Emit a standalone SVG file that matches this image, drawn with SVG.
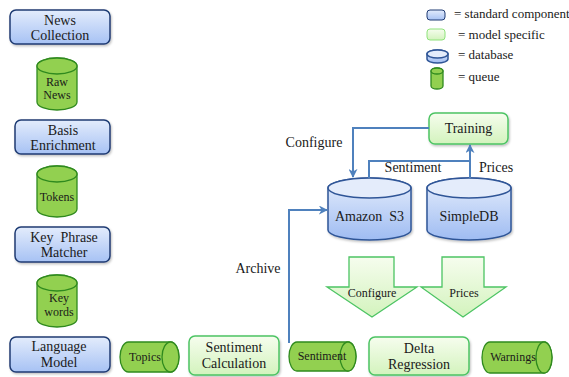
<svg xmlns="http://www.w3.org/2000/svg" width="569" height="377" viewBox="0 0 569 377" font-family="'Liberation Serif', 'DejaVu Serif', serif">
<defs>
<linearGradient id="gBlue" x1="0" y1="0" x2="0" y2="1"><stop offset="0" stop-color="#e3ecfc"/><stop offset="1" stop-color="#a7c2f4"/></linearGradient>
<linearGradient id="gGreen" x1="0" y1="0" x2="0" y2="1"><stop offset="0" stop-color="#f6fdee"/><stop offset="1" stop-color="#d3f3bd"/></linearGradient>
<linearGradient id="gDb" x1="0" y1="0" x2="0" y2="1"><stop offset="0" stop-color="#e6eefc"/><stop offset="1" stop-color="#9fbcf2"/></linearGradient>
<filter id="sh" x="-10%" y="-10%" width="130%" height="140%"><feDropShadow dx="1" dy="1.5" stdDeviation="1" flood-color="#000" flood-opacity="0.25"/></filter>
<marker id="arr" viewBox="0 0 10 10" refX="9" refY="5" markerWidth="4.5" markerHeight="4.5" orient="auto" markerUnits="strokeWidth"><path d="M0,0 L10,5 L0,10 L3,5 Z" fill="#4f81bd"/></marker>
</defs>
<style>
.std{fill:url(#gBlue);stroke:#1f3b73;stroke-width:1.5;filter:url(#sh)}
.mod{fill:url(#gGreen);stroke:#4cc463;stroke-width:1.5;filter:url(#sh)}
.q{fill:#92d050;stroke:#2f8a1e;stroke-width:1.3}
.db{fill:url(#gDb);stroke:#2f5597;stroke-width:1.5}
.dbtop{fill:#e4ecfb;stroke:#2f5597;stroke-width:1.5}
.big{fill:url(#gGreen);stroke:#4cc463;stroke-width:1.3}
text{font-family:'Liberation Serif','DejaVu Serif',serif;fill:#1a1a1a;text-anchor:middle}
.t13{font-size:14px}
.t11{font-size:12px}
.t10{font-size:12px}
.lg{font-size:13px;text-anchor:start}
.con{fill:none;stroke:#4f81bd;stroke-width:2}
</style>

<g id="legend">
<rect x="427" y="10" width="18" height="10" rx="3" fill="url(#gBlue)" stroke="#1f3b73" stroke-width="1"/>
<text class="lg" x="454" y="18">= standard component</text>
<rect x="427" y="29" width="18" height="11" rx="3" fill="url(#gGreen)" stroke="#8ee27a" stroke-width="1"/>
<text class="lg" x="458" y="39">= model specific</text>
<path d="M427,54 a10.5,4 0 0 1 21,0 V59 a10.5,4 0 0 1 -21,0 Z" class="db" stroke-width="1"/>
<ellipse cx="437.5" cy="54" rx="10.5" ry="4" class="dbtop" stroke-width="1"/>
<text class="lg" x="458" y="59">= database</text>
<path d="M431,71 a6,3 0 0 1 12,0 V86 a6,3 0 0 1 -12,0 Z" class="q" stroke-width="1"/>
<ellipse cx="437" cy="71" rx="6" ry="3" class="q" stroke-width="1"/>
<text class="lg" x="458" y="81">= queue</text>
</g>

<g id="news-collection">
<rect x="10" y="10" width="100" height="34" rx="6" class="std"/>
<text class="t13" x="60" y="25">News</text><text class="t13" x="60" y="40">Collection</text>
</g>
<g id="raw-news">
<path d="M37,66 a20,8 0 0 1 40,0 V102 a20,8 0 0 1 -40,0 Z" class="q"/>
<ellipse cx="57" cy="66" rx="20" ry="8" class="q"/>
<text class="t10" x="57" y="86">Raw</text><text class="t10" x="57" y="99">News</text>
</g>
<g id="basis-enrichment">
<rect x="15" y="120" width="95" height="34" rx="6" class="std"/>
<text class="t13" x="63" y="135">Basis</text><text class="t13" x="63" y="150">Enrichment</text>
</g>
<g id="tokens">
<path d="M37,174 a20,8 0 0 1 40,0 V209 a20,8 0 0 1 -40,0 Z" class="q"/>
<ellipse cx="57" cy="174" rx="20" ry="8" class="q"/>
<text class="t10" x="57" y="201">Tokens</text>
</g>
<g id="key-phrase-matcher">
<rect x="15" y="227" width="95" height="35" rx="6" class="std"/>
<text class="t13" x="64" y="242" xml:space="preserve">Key  Phrase</text><text class="t13" x="64" y="257">Matcher</text>
</g>
<g id="keywords">
<path d="M37,283 a20,8 0 0 1 40,0 V319 a20,8 0 0 1 -40,0 Z" class="q"/>
<ellipse cx="57" cy="283" rx="20" ry="8" class="q"/>
<text class="t10" x="59" y="302">Key</text><text class="t10" x="59" y="316">words</text>
</g>
<g id="language-model">
<rect x="10" y="337" width="100" height="35" rx="6" class="std"/>
<text class="t13" x="59" y="351">Language</text><text class="t13" x="59" y="367">Model</text>
</g>
<g id="topics">
<path d="M128.5,342 H170.5 a8.5,15 0 0 1 0,30 H128.5 a8.5,15 0 0 1 0,-30 Z" class="q"/>
<ellipse cx="170.5" cy="357" rx="8.5" ry="15" class="q"/>
<text class="t11" x="145" y="361">Topics</text>
</g>
<g id="sentiment-calculation">
<rect x="189" y="336" width="90" height="39" rx="6" class="mod"/>
<text class="t13" x="234" y="352">Sentiment</text><text class="t13" x="234" y="368">Calculation</text>
</g>
<g id="sentiment">
<path d="M297,342 H348 a8,14.5 0 0 1 0,29 H297 a8,14.5 0 0 1 0,-29 Z" class="q"/>
<ellipse cx="348" cy="356.5" rx="8" ry="14.5" class="q"/>
<text class="t10" x="322" y="360">Sentiment</text>
</g>
<g id="delta-regression">
<rect x="369" y="337" width="100" height="38" rx="6" class="mod"/>
<text class="t13" x="419" y="353">Delta</text><text class="t13" x="419" y="369">Regression</text>
</g>
<g id="warnings">
<path d="M490,342 H544 a8,15.5 0 0 1 0,31 H490 a8,15.5 0 0 1 0,-31 Z" class="q"/>
<ellipse cx="544" cy="357.5" rx="8" ry="15.5" class="q"/>
<text class="t10" x="513" y="361">Warnings</text>
</g>
<g id="training">
<rect x="429" y="113" width="79" height="31" rx="6" class="mod"/>
<text class="t13" x="468.5" y="133">Training</text>
</g>
<g id="amazon-s3">
<path d="M328,188 a41.5,10 0 0 1 83,0 V230 a41.5,10 0 0 1 -83,0 Z" class="db" filter="url(#sh)"/>
<ellipse cx="369.5" cy="188" rx="41.5" ry="10" class="dbtop"/>
<text class="t13" x="369.5" y="221" xml:space="preserve">Amazon  S3</text>
</g>
<g id="simpledb">
<path d="M427,188 a42,10 0 0 1 84,0 V230 a42,10 0 0 1 -84,0 Z" class="db" filter="url(#sh)"/>
<ellipse cx="469" cy="188" rx="42" ry="10" class="dbtop"/>
<text class="t13" x="469" y="221">SimpleDB</text>
</g>
<g id="configure-arrow">
<path d="M349,257 H394 V287 H417 L372,317 L327,287 H349 Z" class="big"/>
<text class="t10" x="372" y="297">Configure</text>
</g>
<g id="prices-arrow">
<path d="M442,257 H484 V287 H506 L463,317 L421,287 H442 Z" class="big"/>
<text class="t10" x="464" y="297">Prices</text>
</g>

<g id="connectors">
<path class="con" d="M429,128 H353 V177" marker-end="url(#arr)"/>
<path class="con" d="M369,178 V161 H470"/>
<path class="con" d="M470,178 V145" marker-end="url(#arr)"/>
<path class="con" d="M289,343 V210 H327" marker-end="url(#arr)"/>
</g>
<g id="labels">
<text class="t13" x="314" y="147">Configure</text>
<text class="t13" x="413" y="172">Sentiment</text>
<text class="t13" x="496" y="172">Prices</text>
<text class="t13" x="258" y="273">Archive</text>
</g>
</svg>
